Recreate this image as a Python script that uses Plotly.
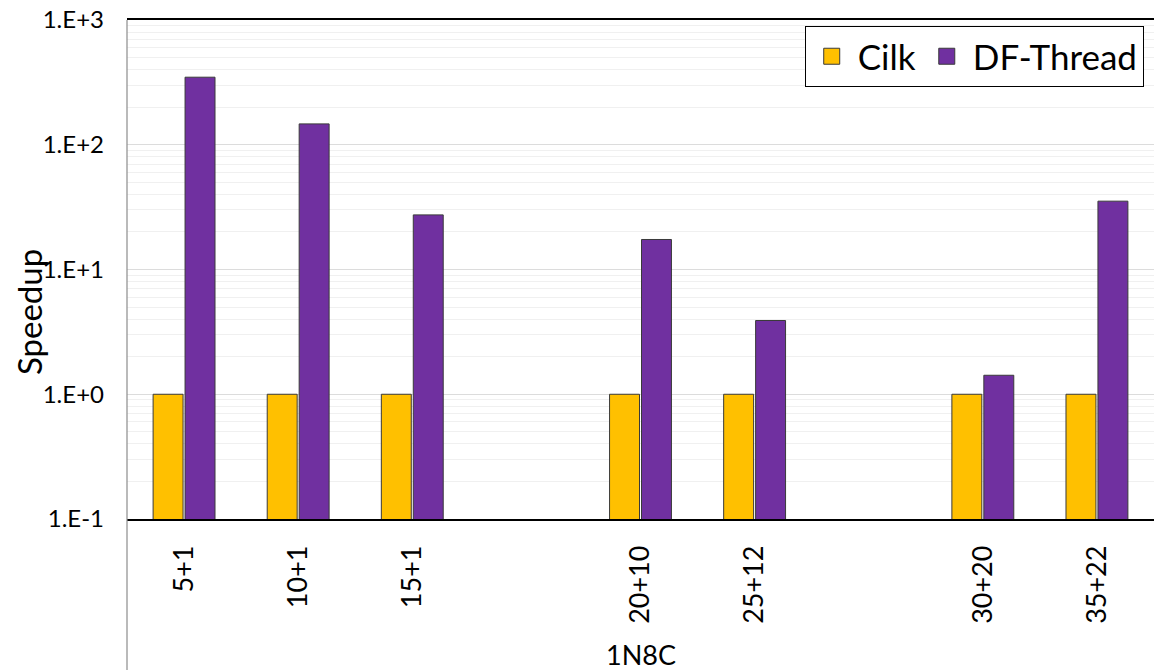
import plotly.graph_objects as go

# Benchmark configurations (blank entries are spacer slots between groups)
categories = ["5+1", "10+1", "15+1", "20+10", "25+12", "30+20", "35+22"]
category_order = ["5+1", "10+1", "15+1", " ", "20+10", "25+12", "  ", "30+20", "35+22"]
cilk = [1, 1, 1, 1, 1, 1, 1]
df_thread = [348, 147, 27.4, 17.4, 3.9, 1.42, 35.3]

y_tickvals = [0.1, 1, 10, 100, 1000]
y_ticktext = ["1.E-1", "1.E+0", "1.E+1", "1.E+2", "1.E+3"]
minor_vals = [m * 10 ** e for e in range(-1, 3) for m in range(2, 10)]

FONT = "Lato"
CILK_COLOR = "#FFC000"
DFT_COLOR = "#7030A0"
edge = dict(color="#3a3a3a", width=1)

fig = go.Figure()
fig.add_trace(go.Bar(name="Cilk", x=categories, y=cilk, showlegend=False,
                     marker=dict(color=CILK_COLOR, line=edge)))
fig.add_trace(go.Bar(name="DF-Thread", x=categories, y=df_thread, showlegend=False,
                     marker=dict(color=DFT_COLOR, line=edge)))

# legend entries drawn with larger square swatches
for name, color in [("Cilk", CILK_COLOR), ("DF-Thread", DFT_COLOR)]:
    fig.add_trace(go.Scatter(name=name, x=[None], y=[None], mode="markers",
                             marker=dict(symbol="square", size=16, color=color,
                                         line=dict(color="#3a3a3a", width=1))))

fig.update_layout(
    width=1155, height=670,
    margin=dict(l=127, r=1, t=20, b=151),
    paper_bgcolor="white", plot_bgcolor="white",
    barmode="group", bargap=0.44, bargroupgap=0.0625,
    font=dict(family=FONT, color="black"),
    showlegend=True,
    legend=dict(orientation="h", x=0.99, xanchor="right", y=0.988, yanchor="top",
                bordercolor="black", borderwidth=1, bgcolor="white",
                font=dict(size=35, family=FONT), itemwidth=42,
                itemsizing="trace", traceorder="normal"),
)

fig.update_xaxes(
    type="category", categoryorder="array", categoryarray=category_order,
    tickangle=-90, tickfont=dict(size=27, family=FONT),
    ticks="", ticklabelstandoff=14,
    showline=True, linecolor="black", linewidth=1.5, mirror=True,
    showgrid=False, range=[-0.5, 8.5],
)

fig.update_yaxes(
    type="log", range=[-1, 3],
    tickmode="array", tickvals=y_tickvals, ticktext=y_ticktext,
    tickfont=dict(size=24, family=FONT), ticks="", ticklabelstandoff=22,
    showgrid=True, gridcolor="#dcdcdc", gridwidth=1,
    minor=dict(tickmode="array", tickvals=minor_vals, showgrid=True,
               gridcolor="#f0f0f0", gridwidth=1, ticks=""),
    showline=False, zeroline=False,
)

# left axis rule extends down through the category label area
fig.add_shape(type="line", xref="paper", yref="paper",
              x0=0, x1=0, y0=-0.31, y1=1,
              line=dict(color="#8c8c8c", width=1.2))

fig.add_annotation(text="Speedup", xref="paper", yref="paper",
                   x=-0.0953, y=0.415, xanchor="center", yanchor="middle",
                   textangle=-90, showarrow=False,
                   font=dict(size=33, family=FONT))
fig.add_annotation(text="1N8C", xref="paper", yref="paper",
                   x=0.5, y=-0.2725, yanchor="middle", showarrow=False,
                   font=dict(size=27, family=FONT))

fig.write_html("out.html")
